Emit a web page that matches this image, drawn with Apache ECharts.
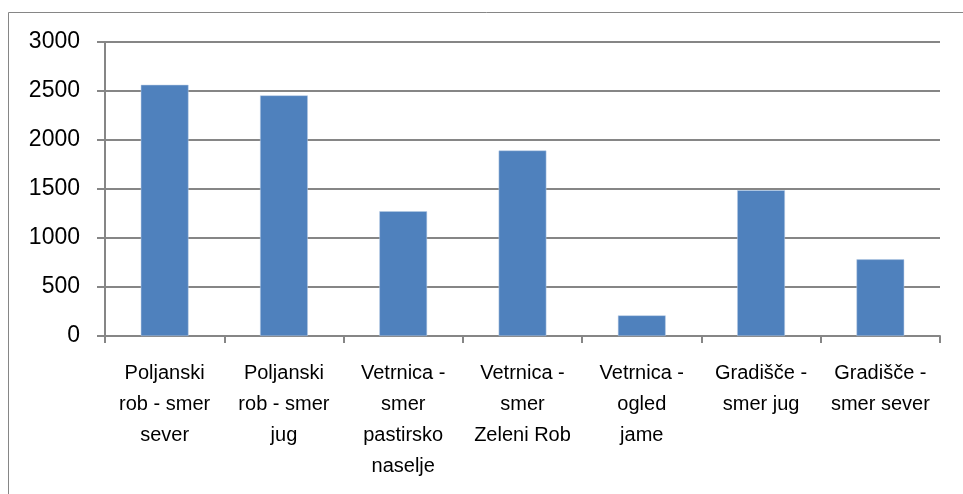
<!DOCTYPE html>
<html>
<head>
<meta charset="utf-8">
<script src="https://cdn.jsdelivr.net/npm/echarts@6/dist/echarts.min.js"></script>
<style>
  html, body { margin: 0; padding: 0; background: #fff; }
  #chart { width: 963px; height: 494px; }
</style>
</head>
<body>
<div id="chart"></div>
<script>
// kategorije (lokacije) in vrednosti
const categories = [
  'Poljanski\nrob - smer\nsever',
  'Poljanski\nrob - smer\njug',
  'Vetrnica -\nsmer\npastirsko\nnaselje',
  'Vetrnica -\nsmer\nZeleni Rob',
  'Vetrnica -\nogled\njame',
  'Gradišče -\nsmer jug',
  'Gradišče -\nsmer sever'
];
const values = [2563, 2455, 1273, 1893, 210, 1487, 782];
const yTicks = [0, 500, 1000, 1500, 2000, 2500, 3000];

const font = '"Liberation Sans", Arial, sans-serif';
const axisGray = '#868686';

const chart = echarts.init(document.getElementById('chart'));

chart.setOption({
  animation: false,
  graphic: [{
    type: 'rect',
    shape: { x: 8.5, y: 12.5, width: 970, height: 490 },
    style: { fill: 'none', stroke: axisGray, lineWidth: 1 }
  }],
  grid: { left: 105, right: 23, top: 42, bottom: 158 },
  xAxis: {
    type: 'category',
    data: categories,
    axisLine: { lineStyle: { color: axisGray, width: 2 } },
    axisTick: { show: true, length: 7, lineStyle: { color: axisGray, width: 2 } },
    axisLabel: {
      interval: 0,
      color: '#000',
      fontFamily: font,
      fontSize: 20,
      lineHeight: 31,
      margin: 22
    }
  },
  yAxis: {
    type: 'value',
    min: yTicks[0],
    max: yTicks[yTicks.length - 1],
    interval: 500,
    axisLine: { show: true, lineStyle: { color: axisGray, width: 2 } },
    axisTick: { show: true, length: 8, lineStyle: { color: axisGray, width: 2 } },
    splitLine: { lineStyle: { color: axisGray, width: 2 } },
    axisLabel: {
      color: '#000',
      fontFamily: font,
      fontSize: 23,
      margin: 25,
      formatter: v => String(v)
    }
  },
  series: [{
    type: 'bar',
    data: values,
    barCategoryGap: '60%',
    itemStyle: { color: '#4F81BD', borderColor: '#B9CDE5', borderWidth: 0.5 }
  }]
});
</script>
</body>
</html>
